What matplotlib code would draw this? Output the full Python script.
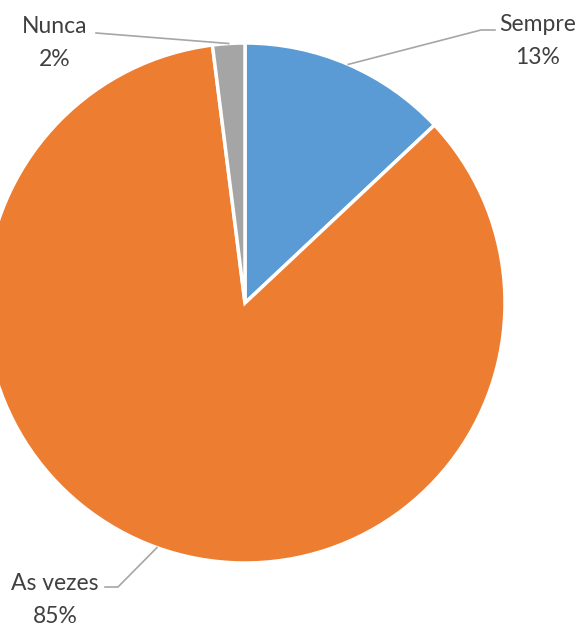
import numpy as np
import matplotlib.pyplot as plt

labels = ['Sempre', 'As vezes', 'Nunca']
values = [13, 85, 2]
colors = ['#5b9bd5', '#ed7d31', '#a5a5a5']

W, H = 584, 628
cx, cy, r = 245, H - 303, 260

plt.rcParams['font.family'] = ['Lato', 'DejaVu Sans']
fig = plt.figure(figsize=(W / 100, H / 100), dpi=100)
ax = fig.add_axes([0, 0, 1, 1])

wedges, _ = ax.pie(values, colors=colors, startangle=90, counterclock=False,
                   center=(cx, cy), radius=r, frame=True,
                   wedgeprops=dict(edgecolor='white', linewidth=2.5))
ax.set_xlim(0, W)
ax.set_ylim(0, H)
ax.axis('off')

# label boxes (text position, elbow, line end)
txt_pos = {'Sempre': (538, H - 41), 'Nunca': (55, H - 43), 'As vezes': (55, H - 600)}
elbows = {'Sempre': [(481, H - 30), (495, H - 30)],
          'Nunca': [(96, H - 33)],
          'As vezes': [(118, H - 587), (105, H - 587)]}

total = sum(values)
for w, lab, v in zip(wedges, labels, values):
    mid = np.deg2rad((w.theta1 + w.theta2) / 2)
    px, py = cx + r * np.cos(mid), cy + r * np.sin(mid)
    pts = [(px, py)] + elbows[lab]
    ax.plot([p[0] for p in pts], [p[1] for p in pts], color='#a6a6a6', lw=1.2)
    tx, ty = txt_pos[lab]
    ax.text(tx, ty, f'{lab}\n{round(v / total * 100)}%', ha='center', va='center',
            fontsize=16.5, color='#404040', linespacing=1.7)

fig.savefig('out.png', dpi=100)
